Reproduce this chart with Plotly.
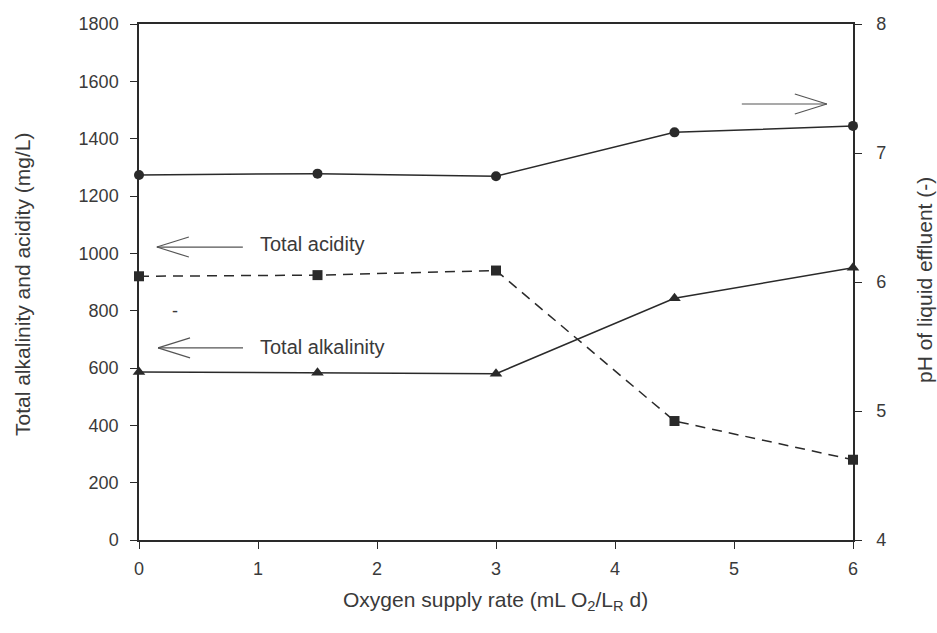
import plotly.graph_objects as go

# Oxygen supply rate (mL O2 / L_R d)
oxygen_rate = [0, 1.5, 3, 4.5, 6]

# Total acidity and total alkalinity (mg/L), left axis
total_acidity = [920, 924, 940, 415, 280]
total_alkalinity = [586, 583, 580, 843, 950]

# pH of liquid effluent (-), right axis
effluent_ph = [6.83, 6.84, 6.82, 7.16, 7.21]

x_ticks = [0, 1, 2, 3, 4, 5, 6]
left_ticks = [0, 200, 400, 600, 800, 1000, 1200, 1400, 1600, 1800]
right_ticks = [4, 5, 6, 7, 8]

W, H = 937, 633
ML, MR, MT, MB = 139, 84, 24, 93
PW, PH = W - ML - MR, H - MT - MB
X_RANGE = (0, 6)
Y_RANGE = (0, 1800)

INK = "#2a2a2a"
TEXT = "#3a3a3a"
FONT = "Liberation Sans, Arial, sans-serif"
TICK_FS = 18
TITLE_FS = 21
NOTE_FS = 20

# convert pixel offsets to data units for the annotation arrows
DX = (X_RANGE[1] - X_RANGE[0]) / PW
DY = (Y_RANGE[1] - Y_RANGE[0]) / PH

fig = go.Figure()

fig.add_trace(go.Scatter(
    x=oxygen_rate, y=effluent_ph, yaxis="y2", mode="lines+markers",
    line=dict(color=INK, width=1.5),
    marker=dict(symbol="circle", size=10, color=INK),
    cliponaxis=False, name="pH", showlegend=False,
))
fig.add_trace(go.Scatter(
    x=oxygen_rate, y=total_acidity, mode="lines+markers",
    line=dict(color=INK, width=1.5, dash="10px,7px"),
    marker=dict(symbol="square", size=10, color=INK),
    cliponaxis=False, name="Total acidity", showlegend=False,
))
fig.add_trace(go.Scatter(
    x=oxygen_rate, y=total_alkalinity, mode="lines+markers",
    line=dict(color=INK, width=1.5),
    marker=dict(symbol="triangle-up", size=11, color=INK),
    cliponaxis=False, name="Total alkalinity", showlegend=False,
))


def open_arrow(tip_x, tip_y, length_px, direction):
    """Line with an open V head; direction -1 points left, +1 points right."""
    shapes = []
    tail_x = tip_x - direction * length_px * DX
    shapes.append(dict(type="line", xref="x", yref="y", x0=tail_x, y0=tip_y,
                       x1=tip_x, y1=tip_y, line=dict(color="#555", width=1.2)))
    for s in (1, -1):
        shapes.append(dict(type="line", xref="x", yref="y",
                           x0=tip_x - direction * 32 * DX, y0=tip_y + s * 10 * DY,
                           x1=tip_x, y1=tip_y, line=dict(color="#555", width=1.2)))
    return shapes


shapes = []
shapes += open_arrow(0.15, 1022, 86, -1)
shapes += open_arrow(0.16, 670, 85, -1)
shapes += open_arrow(5.78, 1521, 85, 1)

annotations = [
    dict(x=1.0, y=1032, xref="x", yref="y", text="Total acidity", showarrow=False,
         xanchor="left", yanchor="middle", font=dict(family=FONT, size=NOTE_FS, color=TEXT)),
    dict(x=1.0, y=675, xref="x", yref="y", text="Total alkalinity", showarrow=False,
         xanchor="left", yanchor="middle", font=dict(family=FONT, size=NOTE_FS, color=TEXT)),
    dict(x=0.3, y=800, xref="x", yref="y", text="-", showarrow=False,
         xanchor="center", yanchor="middle", font=dict(family=FONT, size=TICK_FS, color=TEXT)),
    dict(x=(22 - ML) / PW, y=(H - MB - 285) / PH, xref="paper", yref="paper",
         text="Total alkalinity and acidity (mg/L)", textangle=-90, showarrow=False,
         xanchor="center", yanchor="middle", font=dict(family=FONT, size=TITLE_FS, color=TEXT)),
    dict(x=(924 - ML) / PW, y=(H - MB - 280) / PH, xref="paper", yref="paper",
         text="pH of liquid effluent (-)", textangle=-90, showarrow=False,
         xanchor="center", yanchor="middle", font=dict(family=FONT, size=TITLE_FS, color=TEXT)),
    dict(x=(495 - ML) / PW, y=(H - MB - 601) / PH, xref="paper", yref="paper",
         text="Oxygen supply rate (mL O<sub>2</sub>/L<sub>R</sub> d)", showarrow=False,
         xanchor="center", yanchor="middle", font=dict(family=FONT, size=TITLE_FS, color=TEXT)),
]

axis_common = dict(
    showgrid=False, zeroline=False, showline=True, linecolor=INK, linewidth=1.5,
    ticks="outside", ticklen=7, tickwidth=1.3, tickcolor=INK,
    tickfont=dict(family=FONT, size=TICK_FS, color=TEXT),
)

fig.update_layout(
    width=W, height=H,
    margin=dict(l=ML, r=MR, t=MT, b=MB, pad=0),
    paper_bgcolor="white", plot_bgcolor="white",
    xaxis=dict(range=list(X_RANGE), tickvals=x_ticks, mirror=True,
               ticklabelstandoff=5, **axis_common),
    yaxis=dict(range=list(Y_RANGE), tickvals=left_ticks, ticklabelstandoff=8,
               **axis_common),
    yaxis2=dict(range=[4, 8], tickvals=right_ticks, overlaying="y", side="right",
                ticklabelstandoff=11, **axis_common),
    shapes=shapes,
    annotations=annotations,
)

fig.write_html("out.html")
